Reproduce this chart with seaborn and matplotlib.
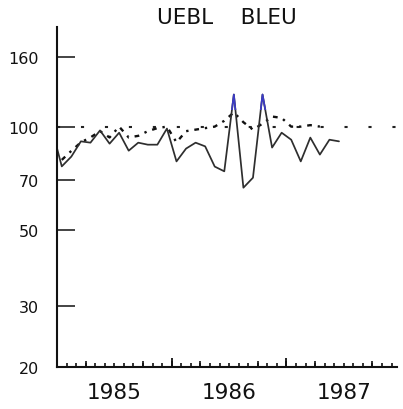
import matplotlib
matplotlib.use("Agg")
import matplotlib.pyplot as plt
import matplotlib.transforms as mtrans
import numpy as np
import pandas as pd
import seaborn as sns

# monthly index values, Jan 1985 onward (value for Dec 1984 first)
uebl_start = 97.7
uebl = [76.6, 81.8, 90.6, 89.8, 97.5, 89.2, 96.0, 85.1, 89.8, 88.6, 88.6, 98.7,
        79.2, 86.3, 89.8, 87.6, 76.5, 74.1, 124.0, 66.4, 71.0, 124.0, 86.9, 96.0,
        91.6, 79.2, 92.9, 82.9, 91.6, 90.6]
bleu = [80.0, 85.0, 90.0, 93.0, 97.0, 93.0, 100.0, 93.0, 94.0, 97.0, 99.0, 100.0,
        90.0, 97.0, 98.0, 99.0, 100.0, 104.0, 110.0, 103.0, 98.0, 102.0, 107.0, 106.0,
        100.0, 100.0, 101.0, 100.0]
base_level = 100
year_labels = ["1985", "1986", "1987"]
y_ticks = [20, 30, 50, 70, 100, 160]

sns.set_style("white")
plt.rcParams['font.family'] = ['DejaVu Sans']

t_uebl = 1984 + 11.5 / 12 + np.arange(len(uebl) + 1) / 12
df_a = pd.DataFrame({"t": t_uebl, "v": [uebl_start] + uebl})
t_bleu = 1985 + (np.arange(len(bleu)) + 0.5) / 12
df_b = pd.DataFrame({"t": t_bleu, "v": bleu})

fig = plt.figure(figsize=(4.03, 4.10), dpi=100)
ax = fig.add_axes([57 / 403, 42.3 / 410, 340 / 403, 339.7 / 410])

ax.axhline(base_level, color="#222222", lw=1.5, linestyle=(0, (1.5, 10)))
sns.lineplot(data=df_b, x="t", y="v", ax=ax, color="#111111", lw=1.7,
             linestyle=(0, (2, 2.5, 1, 2.5)))
sns.lineplot(data=df_a, x="t", y="v", ax=ax, color="#2e2e2e", lw=1.25)
# peak tips show in blue
sns.lineplot(data=df_a, x="t", y="v", ax=ax, color="#3b3bc4", lw=1.25)
tip_clip = mtrans.TransformedBbox(
    mtrans.Bbox([[0, 112], [1, 195]]),
    mtrans.blended_transform_factory(ax.transAxes, ax.transData))
ax.lines[-1].set_clip_box(tip_clip)

ax.set_yscale("log")
ax.set_ylim(20, 195)
ax.set_xlim(1985.0, 1987.964)
ax.set_xlabel("")
ax.set_ylabel("")

ax.set_yticks(y_ticks, labels=[str(v) for v in y_ticks])
ax.yaxis.set_minor_locator(matplotlib.ticker.NullLocator())
ax.tick_params(axis="y", which="major", left=True, direction="in", length=13,
               width=1.1, pad=13, labelsize=11.5, colors="#111111")

# year boundaries and months
ax.set_xticks([1985, 1986, 1987], labels=["", "", ""])
ax.set_xticks(1985 + np.arange(36) / 12, minor=True)
ax.tick_params(axis="x", which="major", bottom=True, direction="in", length=6.8,
               width=1.3, color="#111111")
ax.tick_params(axis="x", which="minor", bottom=True, direction="in", length=3,
               width=1.2, color="#111111")

# quarters and year labels
sec = ax.secondary_xaxis("bottom")
sec.set_xticks([1985.5, 1986.5, 1987.5], labels=year_labels)
sec.set_xticks(1985 + np.arange(12) / 4, minor=True)
sec.tick_params(which="major", bottom=True, length=0, pad=11, labelsize=15.5,
                labelcolor="#111111")
sec.tick_params(which="minor", bottom=True, direction="in", length=4.2,
                width=1.2, color="#111111")
sec.spines["bottom"].set_visible(False)

for s in ["top", "right"]:
    ax.spines[s].set_visible(False)
for s in ["left", "bottom"]:
    ax.spines[s].set_linewidth(1.5)
    ax.spines[s].set_color("#111111")

ax.set_title("UEBL    BLEU", fontsize=15.5, color="#111111", pad=3,
             fontweight="medium")

fig.savefig("out.png", dpi=100)
